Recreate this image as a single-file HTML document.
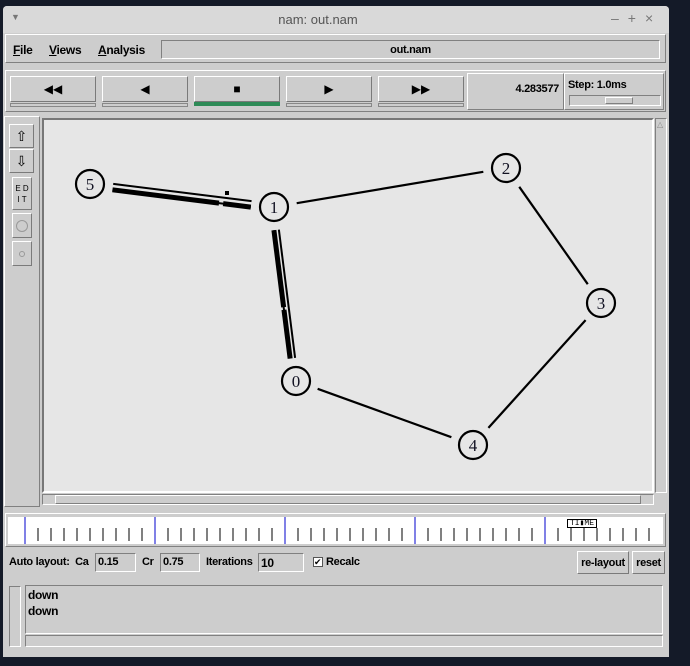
<!DOCTYPE html>
<html><head><meta charset="utf-8"><style>
*{box-sizing:border-box;margin:0;padding:0}
body{width:690px;height:666px;background:#141a28;position:relative;overflow:hidden;font-family:"Liberation Sans",sans-serif;font-size:12px;color:#000}
.a{position:absolute}
.win{left:3px;top:6px;width:666px;height:651px;background:#cdcdcd;border-radius:4px 4px 0 0}
.rel{border:1px solid;border-color:#fff #808080 #808080 #fff}
.sunk{border:1px solid;border-color:#808080 #fff #fff #808080}
.btn{background:#cdcdcd;border:1px solid;border-color:#fff #7a7a7a #7a7a7a #fff;display:flex;align-items:center;justify-content:center}
.b{font-weight:bold;font-size:12px;letter-spacing:-0.3px}
</style></head><body>
<div class="a win">
 <div class="a" style="left:0;top:0;width:666px;height:27px;background:#d9d9d9;border-radius:4px 4px 0 0">
  <div class="a" style="left:8px;top:6px;color:#777;font-size:9px">▼</div>
  <div class="a" style="left:0;width:630px;top:6px;text-align:center;color:#555;font-size:13px">nam: out.nam</div>
  <div class="a" style="left:608px;top:4px;color:#777;font-size:14px;letter-spacing:9px">–+×</div>
 </div>
</div>
<div class="a rel" style="left:5px;top:34px;width:661px;height:29px"></div>
<div class="a b" style="left:13px;top:43px"><u>F</u>ile</div>
<div class="a b" style="left:49px;top:43px"><u>V</u>iews</div>
<div class="a b" style="left:98px;top:43px"><u>A</u>nalysis</div>
<div class="a sunk b" style="left:161px;top:40px;width:499px;height:19px;display:flex;align-items:center;justify-content:center;font-size:11px">out.nam</div>

<div class="a rel" style="left:5px;top:70px;width:661px;height:42px"></div>
<div class="a btn" style="left:10px;top:76px;width:86px;height:26px;font-size:12px">◀◀</div>
<div class="a btn" style="left:102px;top:76px;width:86px;height:26px">◀</div>
<div class="a btn" style="left:194px;top:76px;width:86px;height:26px">■</div>
<div class="a btn" style="left:286px;top:76px;width:86px;height:26px">▶</div>
<div class="a btn" style="left:378px;top:76px;width:86px;height:26px">▶▶</div>
<div class="a" style="left:10px;top:103px;width:86px;height:4px;border:1px solid #888"></div>
<div class="a" style="left:102px;top:103px;width:86px;height:4px;border:1px solid #888"></div>
<div class="a" style="left:194px;top:102px;width:86px;height:4px;background:#2e8b57"></div>
<div class="a" style="left:286px;top:103px;width:86px;height:4px;border:1px solid #888"></div>
<div class="a" style="left:378px;top:103px;width:86px;height:4px;border:1px solid #888"></div>
<div class="a rel b" style="left:467px;top:73px;width:97px;height:37px;font-size:11px;text-align:right;padding:9px 4px 0 0">4.283577</div>
<div class="a rel" style="left:564px;top:73px;width:100px;height:37px">
 <div class="a b" style="left:3px;top:5px;font-size:11px">Step: 1.0ms</div>
 <div class="a sunk" style="left:4px;top:21px;width:92px;height:11px"><div class="a rel" style="left:35px;top:1px;width:28px;height:7px"></div></div>
</div>

<div class="a rel" style="left:4px;top:116px;width:36px;height:391px"></div>
<div class="a btn" style="left:9px;top:124px;width:25px;height:24px;font-size:14px">⇧</div>
<div class="a btn" style="left:9px;top:149px;width:25px;height:24px;font-size:14px">⇩</div>
<div class="a btn" style="left:12px;top:177px;width:20px;height:33px;font-size:8px;line-height:11px;text-align:center">E D<br>I T</div>
<div class="a btn" style="left:12px;top:213px;width:20px;height:25px"><div style="width:12px;height:12px;border:1px solid #999;border-radius:50%"></div></div>
<div class="a btn" style="left:12px;top:241px;width:20px;height:25px"><div style="width:6px;height:6px;border:1px solid #999;border-radius:50%"></div></div>

<div class="a" style="left:42px;top:118px;width:612px;height:375px;background:#e6e6e6;border:2px solid;border-color:#777 #fff #fff #777"></div>
<div class="a sunk" style="left:655px;top:118px;width:12px;height:375px"><div class="a" style="left:1px;top:1px;font-size:8px;color:#888">△</div></div>
<div class="a sunk" style="left:42px;top:494px;width:612px;height:11px"><div class="a rel" style="left:12px;top:0;width:586px;height:9px"></div></div>

<svg class="a" style="left:0;top:0" width="690" height="666" id="g"></svg>

<div class="a rel" style="left:5px;top:513px;width:661px;height:34px"></div>
<div class="a" style="left:8px;top:517px;width:655px;height:27px;background:#fff"></div>
<svg class="a" style="left:0;top:0" width="690" height="666" id="t"></svg>
<div class="a" style="left:567px;top:519px;width:30px;height:9px;background:#fff;border:1px solid #000;font-size:8px;font-family:'Liberation Mono',monospace;line-height:7px;text-align:center">TI▮ME</div>

<div class="a b" style="left:9px;top:556px;font-size:11px">Auto layout:&nbsp; Ca</div>
<div class="a sunk b" style="left:95px;top:553px;width:41px;height:19px;font-size:11px;padding:2px 2px">0.15</div>
<div class="a b" style="left:142px;top:556px;font-size:11px">Cr</div>
<div class="a sunk b" style="left:160px;top:553px;width:40px;height:19px;font-size:11px;padding:2px 2px">0.75</div>
<div class="a b" style="left:206px;top:556px;font-size:11px">Iterations</div>
<div class="a sunk b" style="left:258px;top:553px;width:46px;height:19px;font-size:12px;padding:2px 2px">10</div>
<div class="a" style="left:313px;top:557px;width:10px;height:10px;background:#fff;border:1px solid #555;font-size:9px;line-height:8px">✔</div>
<div class="a b" style="left:326px;top:556px;font-size:11px">Recalc</div>
<div class="a btn b" style="left:577px;top:551px;width:52px;height:23px;font-size:11px">re-layout</div>
<div class="a btn b" style="left:632px;top:551px;width:33px;height:23px;font-size:11px">reset</div>

<div class="a sunk" style="left:9px;top:586px;width:12px;height:61px"></div>
<div class="a sunk b" style="left:25px;top:585px;width:638px;height:49px;font-size:12px;padding:1px 2px;line-height:16px;background:#cdcdcd">down<br>down</div>
<div class="a sunk" style="left:25px;top:635px;width:638px;height:12px"></div>

<script>
const nodeIds=[0,1,2,3,4,5];
const nodeX=[296,274,506,601,473,90];
const nodeY=[381,207,168,303,445,184];
const linkFrom=[1,2,3,4];
const linkTo=[2,3,4,0];
const ns='http://www.w3.org/2000/svg';
const g=document.getElementById('g');
function mk(p,tag,at){const e=document.createElementNS(ns,tag);for(const k in at)e.setAttribute(k,at[k]);p.appendChild(e);return e;}
const R=14;
function seg(a,b,off,w,t0,t1){
 const x1=nodeX[a],y1=nodeY[a],x2=nodeX[b],y2=nodeY[b];
 const dx=x2-x1,dy=y2-y1,L=Math.hypot(dx,dy),ux=dx/L,uy=dy/L,px=-uy,py=ux;
 const s=R+9;
 const ax=x1+ux*s+px*off,ay=y1+uy*s+py*off,bx=x2-ux*s+px*off,by=y2-uy*s+py*off;
 const l=mk(g,'line',{x1:ax+(bx-ax)*t0,y1:ay+(by-ay)*t0,x2:ax+(bx-ax)*t1,y2:ay+(by-ay)*t1,stroke:'#000','stroke-width':w});
 return l;
}
for(let i=0;i<linkFrom.length;i++){
 const l=seg(linkFrom[i],linkTo[i],0,2.2,0,1);
 
 
}
// duplex links with packets (5-1 and 1-0)
let l;
l=seg(5,1,-3,2,0,1);
l=seg(5,1,3,2,0,1);
l=seg(5,1,3,5,0,0.77);
l=seg(5,1,3,5,0.8,1);
l=mk(g,'rect',{x:225,y:191,width:4,height:4,fill:'#000'});
l=seg(1,0,-2,2,0,1);
l=seg(1,0,3,2,0,1);
l=seg(1,0,3,5,0,0.6);
l=seg(1,0,3,5,0.62,1);
for(let i=0;i<nodeIds.length;i++){
 const c=mk(g,'circle',{cx:nodeX[i],cy:nodeY[i],r:R,fill:'#e6e6e6',stroke:'#000','stroke-width':2.2});
 
 
 const t=mk(g,'text',{x:nodeX[i],y:nodeY[i]+6,'text-anchor':'middle','font-family':'Liberation Serif, serif','font-size':17,fill:'#112'});
 t.textContent=nodeIds[i];
 
 
}
const tl=document.getElementById('t');
for(let i=0;i<=49;i++){
 const x=25+i*13;
 if(x>650)break;
 const major=i%10===0;
 const e=mk(tl,'line',{x1:x,y1:major?517:528,x2:x,y2:major?544:541,stroke:major?'#00c':'#000','stroke-width':1});
 
 
}
</script>
</body></html>
